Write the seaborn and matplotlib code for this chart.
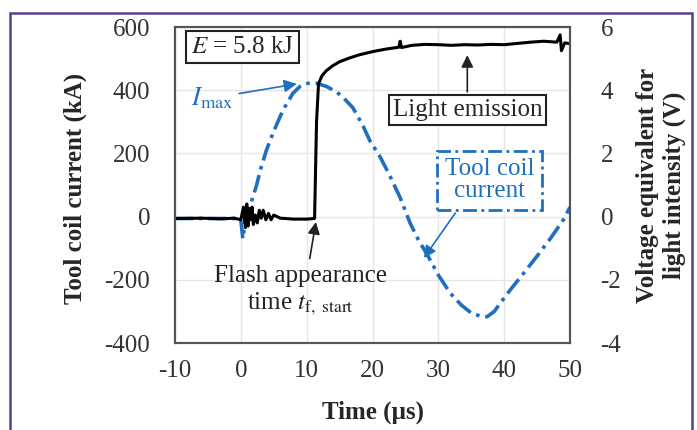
import matplotlib
matplotlib.use("Agg")
import matplotlib.pyplot as plt
import seaborn as sns
import pandas as pd
from matplotlib.patches import Rectangle

# tool coil current (kA)
current_t = [-10, -5, -1, 0.0, 0.3, 0.7, 1.2, 1.8, 2.4, 3.0, 3.9, 5.0, 6.4, 7.9, 9.0,
             10.2, 11.5, 13.0, 14.5, 15.5, 17.0, 18.5, 19.6, 21.0, 22.5, 24.2, 25.7,
             27.0, 28.3, 30.0, 31.8, 33.5, 35.0, 36.5, 37.4, 38.5, 39.4, 41.0, 43.5,
             45.0, 47.0, 49.0, 50.0]
current_kA = [-6, -6, -6, -10, -70, -10, 20, 60, 100, 150, 211, 270, 337, 390, 412,
              422, 422, 412, 395, 378, 345, 290, 240, 195, 135, 60, -20,
              -75, -120, -185, -242, -280, -305, -316, -317, -300, -274, -230, -165,
              -125, -70, -10, 30]

# light emission (V)
light_t = [-10, -6, -3, -1, 0.0, 0.4, 0.7, 0.9, 1.1, 1.3, 1.5, 1.7, 1.9, 2.2, 2.5,
           2.8, 3.1, 3.4, 3.8, 4.2, 4.6, 5.0, 6, 8, 10, 11.2, 11.5, 11.8, 12.3,
           13.0, 14.0, 15.0, 16.5, 18, 20, 22, 24, 24.2, 24.4, 26, 28, 30, 32, 34,
           36, 38, 40, 42, 44, 46, 48, 48.5, 48.7, 49.2, 50]
light_V = [-0.06, -0.05, -0.07, -0.05, -0.1, 0.3, -0.35, 0.4, -0.3, 0.25, -0.1, 0.3,
           -0.25, 0.05, -0.2, 0.2, -0.05, 0.2, -0.1, 0.1, -0.1, 0.05, -0.05, -0.08,
           -0.08, -0.06, 3.0, 4.2, 4.45, 4.62, 4.78, 4.9, 5.02, 5.12, 5.22, 5.3,
           5.36, 5.55, 5.35, 5.42, 5.45, 5.44, 5.42, 5.44, 5.43, 5.45, 5.44, 5.48,
           5.52, 5.55, 5.52, 5.75, 5.25, 5.5, 5.47]

x_ticks = [-10, 0, 10, 20, 30, 40, 50]
left_ticks = [-400, -200, 0, 200, 400, 600]
right_ticks = [-4, -2, 0, 2, 4, 6]

df_cur = pd.DataFrame({"t": current_t, "I": current_kA})
df_light = pd.DataFrame({"t": light_t, "V": light_V})

sns.set_style("white")
plt.rcParams["font.family"] = ["Liberation Serif", "DejaVu Serif"]
plt.rcParams["mathtext.fontset"] = "stix"
plt.rcParams["axes.unicode_minus"] = False

blue = "#1f6fc0"
W, H = 697, 430
fig = plt.figure(figsize=(6.97, 4.30), dpi=100)
ax = fig.add_axes([175 / W, 1 - 343 / H, 395 / W, 316 / H])
ax2 = ax.twinx()

sns.lineplot(data=df_cur, x="t", y="I", ax=ax, color=blue, lw=2.6,
             linestyle=(0, (5, 1.6, 1, 1.6)), sort=False)
sns.lineplot(data=df_light, x="t", y="V", ax=ax2, color="black", lw=2.2, sort=False)

ax.set_xlim(-10, 50)
ax.set_ylim(-400, 600)
ax2.set_ylim(-4, 6)
ax.set_xticks(x_ticks)
ax.set_yticks(left_ticks)
ax2.set_yticks(right_ticks)
ax.set_xlabel("")
ax.set_ylabel("")
ax2.set_ylabel("")
ax.grid(True, color="#e6e6e6", lw=1)
ax.tick_params(length=0, labelsize=18, labelcolor="#333333")
ax.tick_params(axis="x", pad=12)
ax.tick_params(axis="y", pad=18)
ax2.tick_params(length=0, labelsize=18, labelcolor="#333333", pad=22)
for a in (ax, ax2):
    for s in a.spines.values():
        s.set_color("#555555")
        s.set_linewidth(1.5)

# annotations
ax.text(0.2, 537, r"$E$ = 5.8 kJ", fontsize=18, ha="center", va="center",
        bbox=dict(boxstyle="square,pad=0.2", fc="white", ec="#222222", lw=1.5))
ax.annotate(r"$I_{\mathrm{max}}$", xy=(8.5, 420), xytext=(-4.4, 375), color=blue,
            fontsize=19, ha="center", va="center",
            arrowprops=dict(arrowstyle="-|>", color=blue, lw=1.2, shrinkA=2, shrinkB=0))
ax.annotate("Light emission", xy=(34.4, 511), xytext=(34.4, 337), fontsize=18,
            ha="center", va="center",
            bbox=dict(boxstyle="square,pad=0.15", fc="white", ec="#222222", lw=1.5),
            arrowprops=dict(arrowstyle="-|>", color="#222222", lw=1.2, shrinkB=0))
ax.annotate("Tool coil\ncurrent", xy=(27.8, -131), xytext=(37.8, 115), color=blue,
            fontsize=18, ha="center", va="center", linespacing=1.0,
            bbox=dict(boxstyle="square,pad=0.3", fc="white", ec=blue, lw=2,
                      ls=(0, (5, 1.6, 1, 1.6))),
            arrowprops=dict(arrowstyle="-|>", color=blue, lw=1.2, shrinkB=0,
                            relpos=(0.2, 0.0)))
ax.annotate("Flash appearance\ntime $t_{\\mathrm{f,\\ start}}$", xy=(11.4, -17),
            xytext=(9.0, -234), fontsize=18, ha="center", va="center",
            linespacing=1.2, color="#222222",
            arrowprops=dict(arrowstyle="-|>", color="#222222", lw=1.2, shrinkA=2,
                            shrinkB=0, relpos=(0.55, 1.0)))

# axis labels
fig.text(75 / W, 1 - 188 / H, "Tool coil current (kA)", rotation=90, fontsize=18,
         fontweight="bold", ha="center", va="center")
fig.text(661 / W, 1 - 185 / H, "Voltage equivalent for\nlight intensity (V)",
         rotation=90, fontsize=18, fontweight="bold", ha="center", va="center",
         linespacing=1.15)
fig.text(373 / W, 1 - 412 / H, "Time (\u00b5s)", fontsize=18, fontweight="bold",
         ha="center", va="center")

# purple frame
fig.patches.append(Rectangle((10 / W, -0.05), 682 / W, 1 - 13 / H + 0.05,
                             transform=fig.transFigure, fill=False,
                             ec="#5b3d8f", lw=1.8))

fig.savefig("out.png", dpi=100)
